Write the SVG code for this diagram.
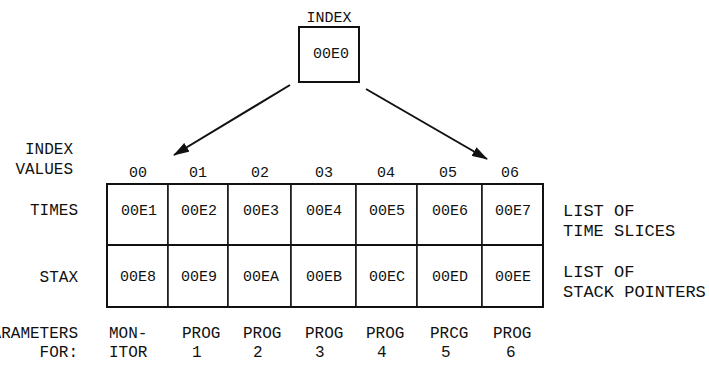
<svg xmlns="http://www.w3.org/2000/svg" width="709" height="368" viewBox="0 0 709 368">
<style>
text{font-family:"Liberation Mono","DejaVu Sans Mono",monospace;fill:#111}
.c{font-size:15px;text-anchor:middle}
.l{font-size:16px}
.r{font-size:16px;text-anchor:end}
.s{font-size:17px}
.cell{fill:#fff;stroke:#111;stroke-width:1.5}
.edge{fill:none;stroke:#111;stroke-width:2}
.conn{stroke:#111;stroke-width:2;fill:none}
</style>
<defs>
<marker id="ah" viewBox="0 0 10 10" refX="9" refY="5" markerWidth="8" markerHeight="6" markerUnits="userSpaceOnUse" orient="auto">
<path d="M0,0 L10,5 L0,10 z" fill="#111"/>
</marker>
<marker id="arr" viewBox="0 0 16 10" refX="15" refY="5" markerWidth="16" markerHeight="10" markerUnits="userSpaceOnUse" orient="auto">
<path d="M0,0 L16,5 L0,10 z" fill="#111"/>
</marker>
</defs>
<rect width="709" height="368" fill="#fff"/>

<g id="index">
<text class="c" x="329" y="22">INDEX</text>
<rect x="299" y="27" width="60" height="55" fill="#fff" stroke="#111" stroke-width="2"/>
<text class="c" x="331" y="58">00E0</text>
</g>

<g id="connectors">
<line class="conn" x1="290" y1="85" x2="174" y2="155" marker-end="url(#arr)"/>
<line class="conn" x1="366" y1="89" x2="487" y2="159" marker-end="url(#arr)"/>
</g>

<g id="labels-left">
<text class="r" x="73" y="154">INDEX</text>
<text class="r" x="73" y="174">VALUES</text>
<text class="r" x="78" y="215">TIMES</text>
<text class="r" x="78" y="282">STAX</text>
<text class="r" x="78" y="338">PARAMETERS</text>
<text class="r" x="78" y="357">FOR:</text>
</g>

<g id="index-values">
<text class="c" x="138" y="177">00</text>
<text class="c" x="198" y="177">01</text>
<text class="c" x="260" y="177">02</text>
<text class="c" x="324" y="177">03</text>
<text class="c" x="386" y="177">04</text>
<text class="c" x="448" y="177">05</text>
<text class="c" x="510" y="177">06</text>
</g>

<g id="table">
<g id="times-row">
<rect class="cell" x="107" y="184" width="61" height="61"/>
<rect class="cell" x="168" y="184" width="60" height="61"/>
<rect class="cell" x="228" y="184" width="63" height="61"/>
<rect class="cell" x="291" y="184" width="65" height="61"/>
<rect class="cell" x="356" y="184" width="61" height="61"/>
<rect class="cell" x="417" y="184" width="65" height="61"/>
<rect class="cell" x="482" y="184" width="61" height="61"/>
<text class="c" x="139" y="215">00E1</text>
<text class="c" x="199" y="215">00E2</text>
<text class="c" x="261" y="215">00E3</text>
<text class="c" x="324" y="215">00E4</text>
<text class="c" x="387" y="215">00E5</text>
<text class="c" x="450" y="215">00E6</text>
<text class="c" x="513" y="215">00E7</text>
</g>
<g id="stax-row">
<rect class="cell" x="107" y="245" width="61" height="62"/>
<rect class="cell" x="168" y="245" width="60" height="62"/>
<rect class="cell" x="228" y="245" width="63" height="62"/>
<rect class="cell" x="291" y="245" width="65" height="62"/>
<rect class="cell" x="356" y="245" width="61" height="62"/>
<rect class="cell" x="417" y="245" width="65" height="62"/>
<rect class="cell" x="482" y="245" width="61" height="62"/>
<text class="c" x="138" y="281">00E8</text>
<text class="c" x="199" y="281">00E9</text>
<text class="c" x="261" y="281">00EA</text>
<text class="c" x="324" y="281">00EB</text>
<text class="c" x="387" y="281">00EC</text>
<text class="c" x="450" y="281">00ED</text>
<text class="c" x="513" y="281">00EE</text>
</g>
<rect class="edge" x="107" y="184" width="436" height="123"/>
<line x1="107" y1="245" x2="543" y2="245" stroke="#111" stroke-width="2"/>
</g>

<g id="labels-right">
<text class="s" x="563" y="216">LIST OF</text>
<text class="s" x="563" y="236">TIME SLICES</text>
<text class="s" x="563" y="277">LIST OF</text>
<text class="s" x="563" y="297">STACK POINTERS</text>
</g>

<g id="params">
<text class="l" x="109" y="338">MON-</text>
<text class="l" x="109" y="357">ITOR</text>
<text class="l" x="182" y="338">PROG</text>
<text class="l" x="192" y="357">1</text>
<text class="l" x="243" y="338">PROG</text>
<text class="l" x="253" y="357">2</text>
<text class="l" x="305" y="338">PROG</text>
<text class="l" x="315" y="357">3</text>
<text class="l" x="366" y="338">PROG</text>
<text class="l" x="377" y="357">4</text>
<text class="l" x="430" y="338">PRCG</text>
<text class="l" x="441" y="357">5</text>
<text class="l" x="493" y="338">PROG</text>
<text class="l" x="506" y="357">6</text>
</g>
</svg>
